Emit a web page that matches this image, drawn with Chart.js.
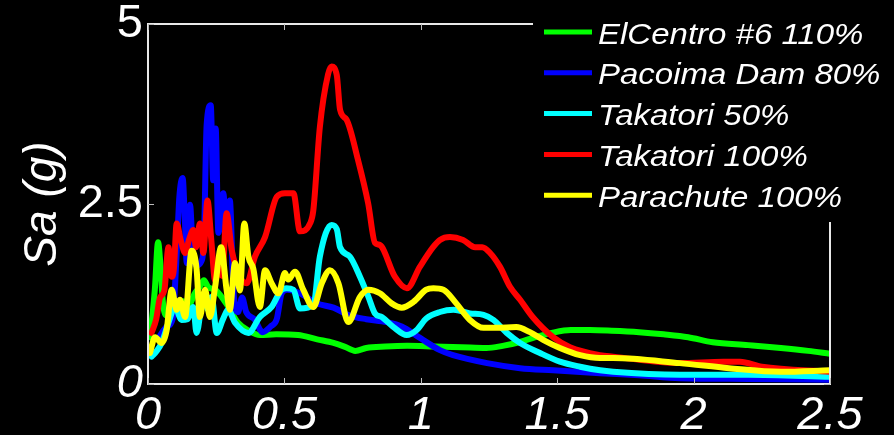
<!DOCTYPE html>
<html>
<head>
<meta charset="utf-8">
<script src="https://cdn.jsdelivr.net/npm/chart.js@4.4.1/dist/chart.umd.min.js"></script>
<style>
  html, body { margin: 0; padding: 0; background: #000; }
  #wrap { width: 894px; height: 435px; }
</style>
</head>
<body>
<div id="wrap"><canvas id="sa" width="894" height="435"></canvas></div>
<script>
// Response spectra, period T (s) vs spectral acceleration Sa (g)
var X_TICKS = [0, 0.5, 1, 1.5, 2, 2.5];
var Y_TICKS = [0, 2.5, 5];

var elCentroT  = [0.008, 0.025, 0.037, 0.045, 0.055, 0.07, 0.09, 0.11, 0.13, 0.15, 0.17, 0.19, 0.205, 0.22, 0.25, 0.29, 0.33, 0.37, 0.41, 0.47, 0.55, 0.62, 0.68, 0.72, 0.76, 0.8, 0.87, 0.95, 1.05, 1.15, 1.24, 1.3, 1.36, 1.42, 1.48, 1.55, 1.62, 1.7, 1.8, 1.89, 1.98, 2.07, 2.2, 2.32, 2.42, 2.5];
var elCentroSa = [0.65, 1.31, 1.97, 1.68, 1.12, 0.95, 1.1, 1.05, 1.15, 1.1, 1.25, 1.35, 1.44, 1.35, 1.3, 1.1, 0.85, 0.74, 0.68, 0.69, 0.68, 0.62, 0.57, 0.52, 0.46, 0.5, 0.52, 0.53, 0.52, 0.51, 0.5, 0.53, 0.58, 0.65, 0.71, 0.75, 0.75, 0.74, 0.72, 0.69, 0.65, 0.58, 0.54, 0.5, 0.46, 0.42];

var pacoimaT  = [0.04, 0.07, 0.09, 0.105, 0.115, 0.127, 0.135, 0.142, 0.154, 0.165, 0.18, 0.195, 0.205, 0.215, 0.23, 0.239, 0.248, 0.258, 0.276, 0.288, 0.3, 0.313, 0.33, 0.345, 0.36, 0.39, 0.42, 0.45, 0.472, 0.49, 0.51, 0.557, 0.618, 0.68, 0.74, 0.8, 0.875, 0.93, 0.997, 1.07, 1.118, 1.243, 1.364, 1.485, 1.657, 1.8, 1.95, 2.2, 2.5];
var pacoimaSa = [0.65, 0.8, 0.9, 1.8, 2.6, 2.86, 2.3, 1.68, 2.49, 1.8, 1.65, 1.7, 2.0, 3.6, 3.87, 2.83, 3.55, 2.1, 2.65, 2.1, 2.55, 1.3, 1.0, 1.2, 1.0, 0.9, 0.72, 0.8, 0.9, 1.26, 1.31, 1.26, 1.12, 1.06, 0.95, 0.9, 0.86, 0.8, 0.64, 0.47, 0.4, 0.29, 0.22, 0.19, 0.15, 0.12, 0.08, 0.07, 0.06];

var takatori50T  = [0.013, 0.03, 0.05, 0.075, 0.099, 0.123, 0.145, 0.166, 0.178, 0.203, 0.221, 0.233, 0.252, 0.275, 0.294, 0.319, 0.368, 0.41, 0.453, 0.49, 0.508, 0.533, 0.557, 0.606, 0.63, 0.673, 0.692, 0.704, 0.74, 0.777, 0.808, 0.832, 0.857, 0.9, 0.948, 0.985, 1.02, 1.07, 1.12, 1.18, 1.23, 1.266, 1.315, 1.364, 1.437, 1.51, 1.584, 1.657, 1.705, 1.95, 2.2, 2.5];
var takatori50Sa = [0.38, 0.45, 0.57, 0.85, 1.07, 0.89, 0.9, 1.07, 0.71, 1.21, 1.03, 1.21, 0.71, 0.9, 1.03, 0.85, 0.71, 0.93, 1.07, 1.31, 1.33, 1.31, 1.05, 1.1, 1.77, 2.21, 2.15, 1.9, 1.77, 1.49, 1.21, 0.98, 0.93, 0.79, 0.68, 0.75, 0.91, 1.0, 1.03, 0.98, 0.96, 0.89, 0.71, 0.57, 0.43, 0.31, 0.24, 0.19, 0.17, 0.13, 0.13, 0.1];

var takatori100T  = [0.013, 0.03, 0.044, 0.06, 0.075, 0.087, 0.095, 0.105, 0.12, 0.136, 0.15, 0.166, 0.176, 0.19, 0.203, 0.218, 0.232, 0.246, 0.26, 0.272, 0.288, 0.307, 0.337, 0.362, 0.392, 0.429, 0.472, 0.502, 0.533, 0.557, 0.594, 0.606, 0.63, 0.66, 0.673, 0.692, 0.704, 0.728, 0.77, 0.807, 0.832, 0.85, 0.905, 0.949, 0.997, 1.045, 1.07, 1.107, 1.155, 1.199, 1.225, 1.254, 1.29, 1.327, 1.364, 1.41, 1.485, 1.547, 1.657, 1.705, 1.95, 2.11, 2.17, 2.25, 2.5];
var takatori100Sa = [0.71, 0.9, 1.2, 1.3, 1.9, 1.49, 1.6, 2.23, 2.0, 1.82, 2.0, 2.14, 1.9, 2.23, 1.82, 2.55, 2.0, 1.44, 1.6, 1.5, 2.37, 1.86, 1.49, 1.4, 1.77, 2.04, 2.6, 2.65, 2.65, 2.12, 2.23, 2.41, 3.57, 4.3, 4.41, 4.29, 3.81, 3.67, 3.11, 2.51, 1.96, 1.93, 1.49, 1.33, 1.63, 1.9, 2.0, 2.04, 2.0, 1.9, 1.9, 1.82, 1.63, 1.35, 1.17, 0.93, 0.65, 0.51, 0.4, 0.38, 0.29, 0.31, 0.31, 0.24, 0.17];

var parachuteT  = [0.007, 0.026, 0.05, 0.068, 0.087, 0.105, 0.117, 0.136, 0.16, 0.178, 0.19, 0.209, 0.227, 0.246, 0.268, 0.288, 0.3, 0.319, 0.337, 0.353, 0.368, 0.386, 0.41, 0.429, 0.453, 0.478, 0.502, 0.514, 0.539, 0.569, 0.606, 0.637, 0.667, 0.698, 0.734, 0.777, 0.808, 0.85, 0.893, 0.93, 0.973, 1.02, 1.046, 1.083, 1.13, 1.18, 1.23, 1.278, 1.35, 1.4, 1.45, 1.51, 1.584, 1.657, 1.705, 1.95, 2.13, 2.32, 2.5];
var parachuteSa = [0.43, 0.65, 0.57, 0.74, 1.31, 1.03, 1.17, 0.93, 1.85, 1.6, 0.93, 1.31, 0.93, 1.35, 1.9, 1.31, 1.03, 1.68, 1.3, 2.23, 1.77, 1.6, 1.07, 1.58, 1.4, 1.26, 1.54, 1.45, 1.56, 1.31, 1.07, 1.4, 1.58, 1.4, 0.86, 1.21, 1.31, 1.26, 1.12, 1.06, 1.14, 1.31, 1.33, 1.31, 1.12, 0.89, 0.78, 0.78, 0.79, 0.72, 0.61, 0.5, 0.4, 0.36, 0.36, 0.29, 0.22, 0.17, 0.19];

var SERIES_LABELS = ['ElCentro #6 110%', 'Pacoima Dam 80%', 'Takatori 50%', 'Takatori 100%', 'Parachute 100%'];
var SERIES_COLORS = ['#00ff00', '#0000ff', '#00ffff', '#ff0000', '#ffff00'];
var SERIES_T  = [elCentroT, pacoimaT, takatori50T, takatori100T, parachuteT];
var SERIES_SA = [elCentroSa, pacoimaSa, takatori50Sa, takatori100Sa, parachuteSa];

var FONT = '"Liberation Sans", Arial, Helvetica, sans-serif';

function toPoints(ts, vals) {
    var pts = [];
    for (var i = 0; i < ts.length; i++) pts.push({ x: ts[i], y: vals[i] });
    return pts;
}

var datasets = SERIES_LABELS.map(function (label, i) {
    return {
        label: label,
        data: toPoints(SERIES_T[i], SERIES_SA[i]),
        borderColor: SERIES_COLORS[i],
        borderWidth: 6,
        borderJoinStyle: 'round',
        borderCapStyle: 'round',
        pointRadius: 0,
        cubicInterpolationMode: 'monotone',
        fill: false,
        // later series sit on top, like the plotting order
        order: SERIES_LABELS.length - i
    };
});

// axes box with inward ticks, then the legend panel over the top-right corner
var boxAndLegend = {
    id: 'boxAndLegend',
    afterDatasetsDraw: function (chart) {
        var ctx = chart.ctx, a = chart.chartArea;
        var xs = chart.scales.x, ys = chart.scales.y;
        ctx.save();
        ctx.strokeStyle = '#e8e8e8';
        ctx.lineWidth = 2;
        ctx.strokeRect(a.left, a.top, a.right - a.left, a.bottom - a.top);
        ctx.lineWidth = 1;
        ctx.strokeStyle = '#bbbbbb';
        ctx.beginPath();
        X_TICKS.forEach(function (v) {
            var px = Math.round(xs.getPixelForValue(v)) + 0.5;
            ctx.moveTo(px, a.bottom); ctx.lineTo(px, a.bottom - 6);
            ctx.moveTo(px, a.top);    ctx.lineTo(px, a.top + 6);
        });
        Y_TICKS.forEach(function (v) {
            var py = Math.round(ys.getPixelForValue(v)) + 0.5;
            ctx.moveTo(a.left, py);  ctx.lineTo(a.left + 6, py);
            ctx.moveTo(a.right, py); ctx.lineTo(a.right - 6, py);
        });
        ctx.stroke();

        // legend
        ctx.fillStyle = '#000';
        ctx.fillRect(533, 0, chart.width - 533, 222);
        ctx.font = 'italic 30px ' + FONT;
        ctx.textBaseline = 'alphabetic';
        ctx.textAlign = 'left';
        chart.data.datasets.forEach(function (ds, i) {
            var y = 32 + i * 40.8;
            ctx.strokeStyle = ds.borderColor;
            ctx.lineWidth = 5;
            ctx.beginPath();
            ctx.moveTo(544, y); ctx.lineTo(592, y);
            ctx.stroke();
            ctx.save();
            ctx.translate(598, y + 11.5);
            ctx.scale(1.1, 1);
            ctx.fillStyle = '#ffffff';
            ctx.fillText(ds.label, 0, 0);
            ctx.restore();
        });
        ctx.restore();
    }
};

function fmtTick(v) { return String(v); }

new Chart(document.getElementById('sa'), {
    type: 'line',
    data: { datasets: datasets },
    plugins: [boxAndLegend],
    options: {
        responsive: false,
        animation: false,
        layout: { padding: { top: 24, right: 64, bottom: 0, left: 0 } },
        plugins: { legend: { display: false }, tooltip: { enabled: false } },
        scales: {
            x: {
                type: 'linear', min: 0, max: 2.5,
                grid: { display: false, drawTicks: false },
                border: { display: false },
                afterBuildTicks: function (s) { s.ticks = X_TICKS.map(function (v) { return { value: v }; }); },
                ticks: { color: '#ffffff', padding: 4, maxRotation: 0, autoSkip: false, callback: fmtTick,
                    font: { family: FONT, size: 47, style: 'italic' } },
                afterFit: function (s) { s.height = 51; s.paddingLeft = 0; s.paddingRight = 0; }
            },
            y: {
                type: 'linear', min: 0, max: 5,
                grid: { display: false, drawTicks: false },
                border: { display: false },
                afterBuildTicks: function (s) { s.ticks = Y_TICKS.map(function (v) { return { value: v }; }); },
                ticks: { color: '#ffffff', padding: 5, callback: fmtTick,
                    font: function (c) {
                        return { family: FONT, size: 47, style: c.tick && c.tick.value === 0 ? 'italic' : 'normal' };
                    } },
                title: { display: true, text: 'Sa (g)', color: '#ffffff',
                    padding: { top: 16, bottom: 0 },
                    font: { family: FONT, size: 46, style: 'italic' } },
                afterFit: function (s) { s.width = 148; s.paddingTop = 0; s.paddingBottom = 0; }
            }
        }
    }
});
</script>
</body>
</html>
